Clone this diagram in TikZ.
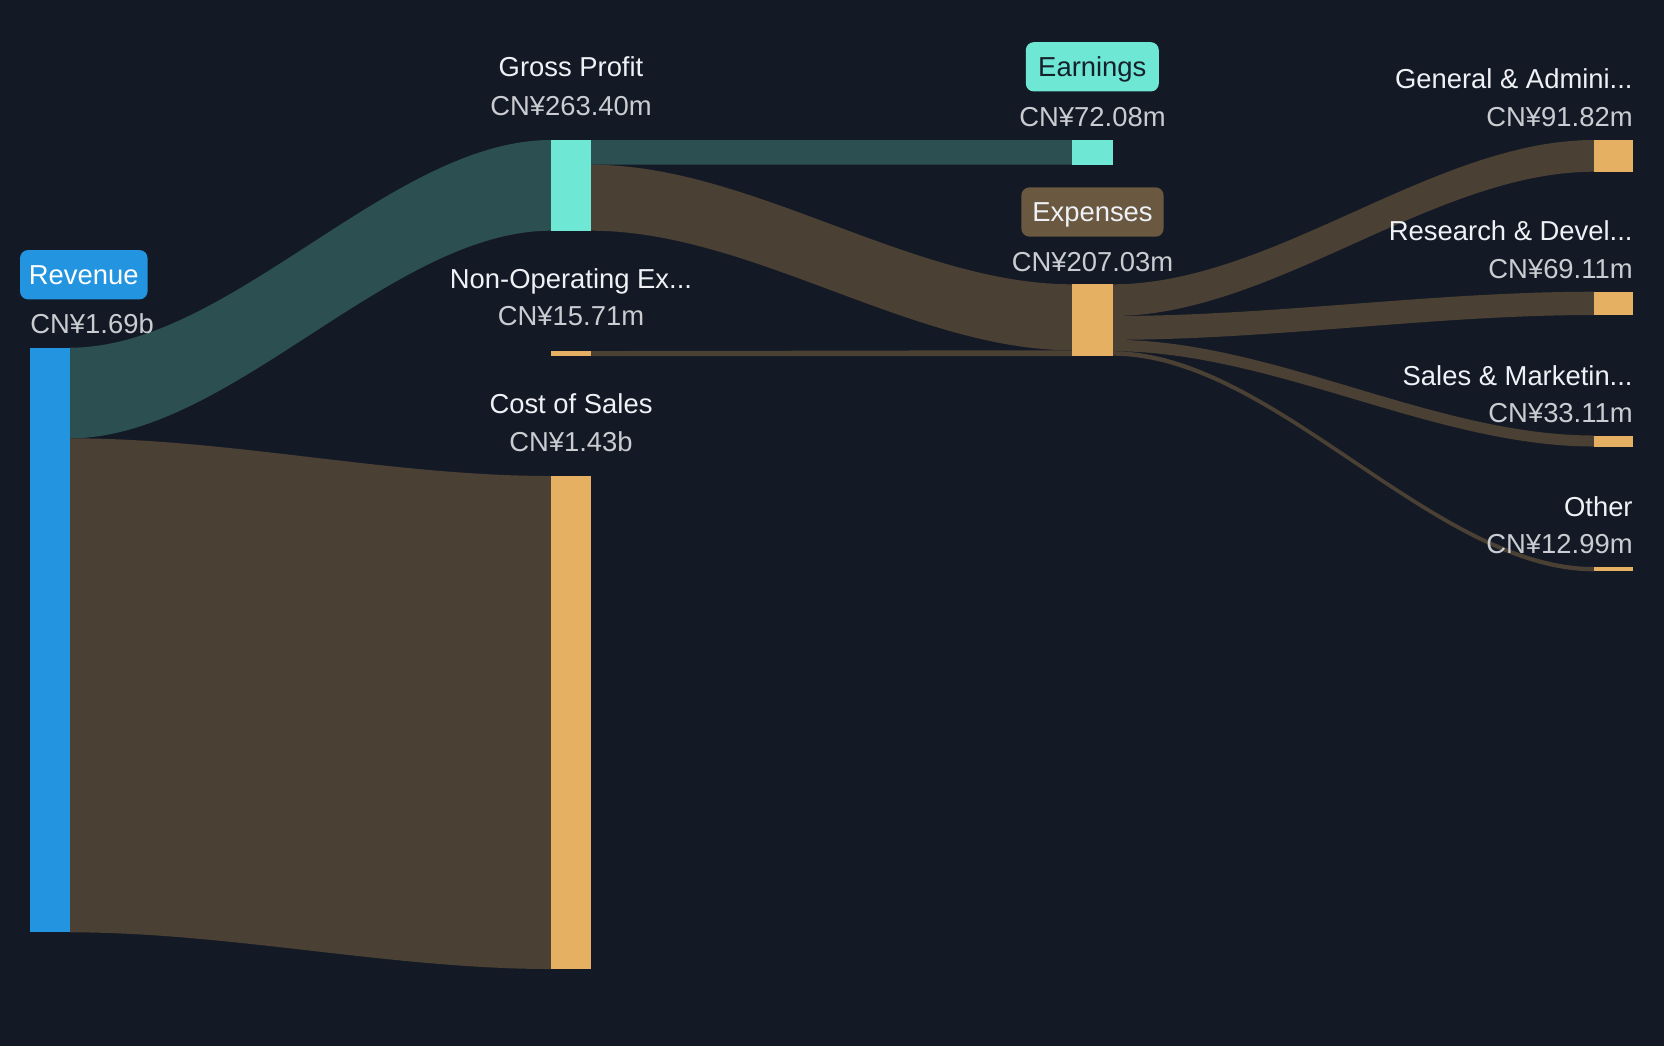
\documentclass[tikz,border=0pt]{standalone}
\usepackage{fontspec}
\setmainfont{Liberation Sans}
\usetikzlibrary{fit}
\definecolor{bg}{HTML}{141A25}
\definecolor{tealflow}{HTML}{2C4F52}
\definecolor{brownflow}{HTML}{4A4034}
\definecolor{tealbar}{HTML}{6EE7D4}
\definecolor{orangebar}{HTML}{E5B062}
\definecolor{bluebar}{HTML}{2394DF}
\definecolor{expbox}{HTML}{6A5840}
\definecolor{nametxt}{HTML}{EEF2F6}
\definecolor{valtxt}{HTML}{C9CCD1}
\definecolor{darktxt}{HTML}{16202B}
\newcommand{\skflow}[7]{%
  \fill[#7] (#1,#2) .. controls ({(2*#1+#4)/3},#2) and ({(#1+2*#4)/3},#5) .. (#4,#5)
    -- (#4,#6) .. controls ({(#1+2*#4)/3},#6) and ({(2*#1+#4)/3},#3) .. (#1,#3) -- cycle;}
\begin{document}
\begin{tikzpicture}[x=0.5pt,y=-0.5pt,
  lbl/.style={font=\fontsize{13.7}{16}\selectfont, text=nametxt, inner sep=0pt},
  val/.style={font=\fontsize{13.7}{16}\selectfont, text=valtxt, inner sep=0pt},
  bar/.style={inner sep=0pt, outer sep=0pt, draw=none},
  tag/.style={rounded corners=4pt, inner sep=0pt, minimum height=24.65pt,
    font=\fontsize{13.7}{16}\selectfont, text height=9.8pt, text depth=0pt}]
\useasboundingbox (0,0) rectangle (1664,1046);
\fill[bg] (0,0) rectangle (1664,1046);
% flows
\skflow{70}{347.7}{438.3}{551}{140}{230.7}{tealflow}
\skflow{70}{438.3}{932.3}{551}{476}{969}{brownflow}
\skflow{591}{140}{164.7}{1072.4}{140}{164.7}{tealflow}
\skflow{591}{164.7}{230.7}{1072.4}{284.3}{350.3}{brownflow}
\skflow{591}{351}{356}{1072.4}{350.3}{356}{brownflow}
\skflow{1112.7}{284.3}{316}{1594}{140}{171.7}{brownflow}
\skflow{1112.7}{316}{339.8}{1594}{291.7}{315}{brownflow}
\skflow{1112.7}{339.8}{351.2}{1594}{435.5}{446.5}{brownflow}
\skflow{1112.7}{351.2}{355.7}{1594}{567}{571.3}{brownflow}
% bars
\node[bar, fill=bluebar, fit={(30,347.7)(70,932.3)}] (rev) {};
\node[bar, fill=tealbar, fit={(551,140)(591,230.7)}] (gp) {};
\node[bar, fill=orangebar, fit={(551,351)(591,356)}] (nonop) {};
\node[bar, fill=orangebar, fit={(551,476)(591,969)}] (cos) {};
\node[bar, fill=tealbar, fit={(1072.4,140)(1112.7,164.7)}] (earn) {};
\node[bar, fill=orangebar, fit={(1072.4,284.3)(1112.7,356)}] (exp) {};
\node[bar, fill=orangebar, fit={(1594,140)(1633.2,171.7)}] (ga) {};
\node[bar, fill=orangebar, fit={(1594,291.7)(1633.2,315)}] (rd) {};
\node[bar, fill=orangebar, fit={(1594,435.5)(1633.2,446.5)}] (sm) {};
\node[bar, fill=orangebar, fit={(1594,567)(1633.2,571.3)}] (oth) {};
% labels
\node[tag, fill=bluebar, text=white, minimum width=63.75pt] (revtag) at (83.8,274.7) {Revenue};
\node[val, anchor=base west] (revval) at (30,333) {CN¥1.69b};
\node[lbl, anchor=base] (gpname) at (571,76.5) {Gross Profit};
\node[val, anchor=base] (gpval) at (571,115) {CN¥263.40m};
\node[lbl, anchor=base] (nonopname) at (571,288) {Non-Operating Ex...};
\node[val, anchor=base] (nonopval) at (571,325) {CN¥15.71m};
\node[lbl, anchor=base] (cosname) at (571,413) {Cost of Sales};
\node[val, anchor=base] (cosval) at (571,451.7) {CN¥1.43b};
\node[tag, fill=tealbar, text=darktxt, minimum width=66.5pt] (earntag) at (1092.3,66.8) {Earnings};
\node[val, anchor=base] (earnval) at (1092.5,126.7) {CN¥72.08m};
\node[tag, fill=expbox, text=nametxt, minimum width=71.1pt] (exptag) at (1092.5,212) {Expenses};
\node[val, anchor=base] (expval) at (1092.5,271.7) {CN¥207.03m};
\node[lbl, anchor=base east] (ganame) at (1633,88.3) {General \& Admini...};
\node[val, anchor=base east] (gaval) at (1633,126.7) {CN¥91.82m};
\node[lbl, anchor=base east] (rdname) at (1633,240) {Research \& Devel...};
\node[val, anchor=base east] (rdval) at (1633,278.3) {CN¥69.11m};
\node[lbl, anchor=base east] (smname) at (1633,385) {Sales \& Marketin...};
\node[val, anchor=base east] (smval) at (1633,422.3) {CN¥33.11m};
\node[lbl, anchor=base east] (othname) at (1633,516) {Other};
\node[val, anchor=base east] (othval) at (1633,553.3) {CN¥12.99m};
\end{tikzpicture}
\end{document}
